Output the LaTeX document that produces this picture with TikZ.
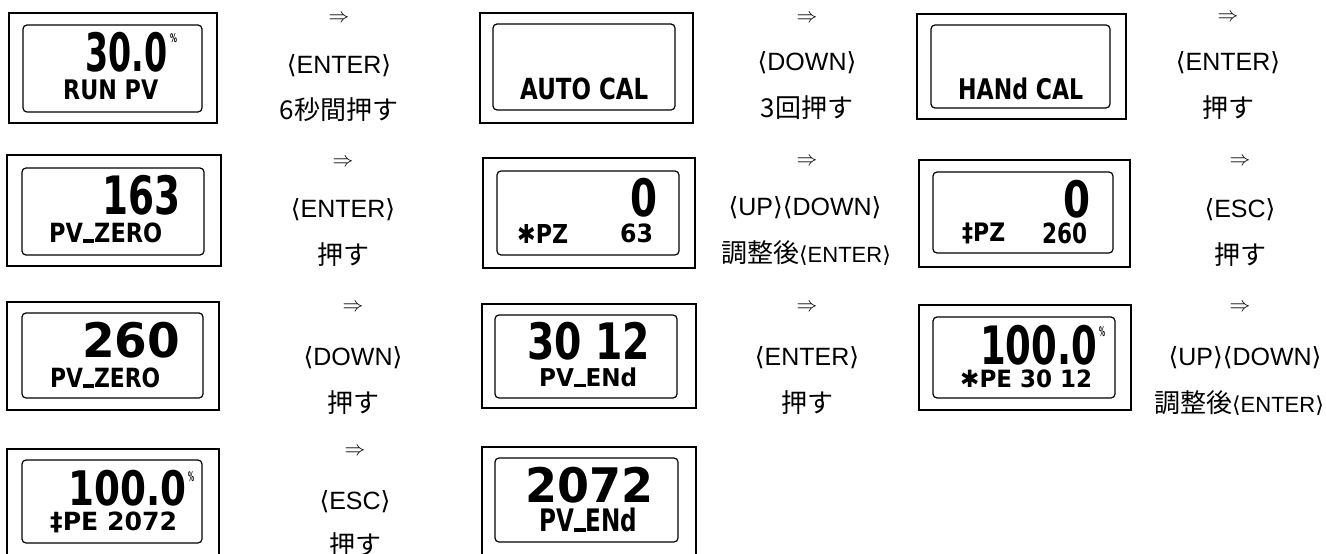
\documentclass[tikz,border=0pt]{standalone}
\usepackage{fontspec}
\usepackage{graphicx}
\usetikzlibrary{fit}
\setmainfont{Noto Sans CJK JP}
\newfontfamily\lcdf{DejaVu Sans}
\newfontfamily\latf{Liberation Sans}
\newfontfamily\brf{DejaVu Sans}
\newcommand\lcdt[3]{\resizebox*{#1pt}{#2pt}{\lcdf\bfseries #3}}
\newcommand\us{\rule{0.5em}{0.13em}}
\newcommand\kb[1]{{\brf ⟨}{\latf #1}{\brf ⟩}}
\newcommand\smallkey{\fontsize{22}{22}\selectfont}
\tikzset{
  outerbox/.style={draw, line width=1.5pt, inner sep=0pt},
  innerbox/.style={draw, line width=1.2pt, rounded corners=4pt, inner sep=0pt},
  lcd/.style={anchor=north west, inner sep=0pt},
  arr/.style={font=\fontsize{22}{22}\selectfont, inner sep=0pt},
  key/.style={font=\fontsize{25}{25}\selectfont, inner sep=0pt},
  jp/.style={font=\fontsize{26}{26}\selectfont, inner sep=0pt}
}
\begin{document}
\begin{tikzpicture}[x=1pt,y=-1pt]
\clip (0,0) rectangle (1326,554);
\fill[white] (0,0) rectangle (1326,554);

% ---------- display 1
\node[outerbox, fit={(9,13)(217,123)}] (d1) {};
\node[innerbox, fit={(23,25)(202,112)}] (d1i) {};
\node[lcd] (d1v) at (85,32) {\lcdt{82}{40}{30.0}};
\node[lcd] (d1p) at (170,33) {\lcdt{7}{9}{\%}};
\node[lcd] (d1l) at (63,80) {\lcdt{95}{20}{RUN PV}};
% ---------- display 2
\node[outerbox, fit={(480,13)(693,123)}] (d2) {};
\node[innerbox, fit={(493,24)(675,110)}] (d2i) {};
\node[lcd] (d2l) at (520,78) {\lcdt{128}{22}{AUTO CAL}};
% ---------- display 3
\node[outerbox, fit={(917,14)(1126,119)}] (d3) {};
\node[innerbox, fit={(931,25)(1110,108)}] (d3i) {};
\node[lcd] (d3l) at (958,78) {\lcdt{125}{22}{HANd CAL}};
% ---------- display 4
\node[outerbox, fit={(7,155)(221,266)}] (d4) {};
\node[innerbox, fit={(22,168)(204,255)}] (d4i) {};
\node[lcd] (d4v) at (102,175) {\lcdt{78}{40}{163}};
\node[lcd] (d4l) at (49,223) {\lcdt{113}{20}{PV\us ZERO}};
% ---------- display 5
\node[outerbox, fit={(483,158)(695,268)}] (d5) {};
\node[innerbox, fit={(497,171)(679,255)}] (d5i) {};
\node[lcd] (d5v) at (630,178) {\lcdt{27}{39}{0}};
\node[lcd] (d5l) at (517,224) {\lcdt{51}{19}{✱PZ}};
\node[lcd] (d5n) at (620,224) {\lcdt{33}{19}{63}};
% ---------- display 6
\node[outerbox, fit={(919,160)(1130,267)}] (d6) {};
\node[innerbox, fit={(933,172)(1113,253)}] (d6i) {};
\node[lcd] (d6v) at (1063,180) {\lcdt{27}{38}{0}};
\node[lcd] (d6l) at (962,223) {\lcdt{43}{21}{‡PZ}};
\node[lcd] (d6n) at (1042,223) {\lcdt{45}{21}{260}};
% ---------- display 7
\node[outerbox, fit={(7,302)(219,410)}] (d7) {};
\node[innerbox, fit={(22,313)(203,398)}] (d7i) {};
\node[lcd] (d7v) at (82,322) {\lcdt{98}{36}{260}};
\node[lcd] (d7l) at (50,368) {\lcdt{110}{20}{PV\us ZERO}};
% ---------- display 8
\node[outerbox, fit={(482,304)(696,408)}] (d8) {};
\node[innerbox, fit={(495,315)(677,398)}] (d8i) {};
\node[lcd] (d8v) at (527,322) {\lcdt{123}{38}{30 12}};
\node[lcd] (d8l) at (539,368) {\lcdt{98}{19}{PV\us ENd}};
% ---------- display 9
\node[outerbox, fit={(919,305)(1131,410)}] (d9) {};
\node[innerbox, fit={(933,317)(1115,398)}] (d9i) {};
\node[lcd] (d9v) at (980,325) {\lcdt{117}{40}{100.0}};
\node[lcd] (d9p) at (1099,326) {\lcdt{6}{10}{\%}};
\node[lcd] (d9l) at (960,370) {\lcdt{132}{18}{✱PE 30 12}};
% ---------- display 10
\node[outerbox, fit={(7,449)(219,557)}] (d10) {};
\node[innerbox, fit={(22,460)(202,543)}] (d10i) {};
\node[lcd] (d10v) at (68,470) {\lcdt{118}{36}{100.0}};
\node[lcd] (d10p) at (188,471) {\lcdt{6}{10}{\%}};
\node[lcd] (d10l) at (50,512) {\lcdt{127}{21}{‡PE 2072}};
% ---------- display 11
\node[outerbox, fit={(482,447)(696,557)}] (d11) {};
\node[innerbox, fit={(495,458)(678,542)}] (d11i) {};
\node[lcd] (d11v) at (525,467) {\lcdt{128}{36}{2072}};
\node[lcd] (d11l) at (539,508) {\lcdt{98}{24}{PV\us ENd}};

% ---------- instructions, column A
\node[arr] (a1) at (339,19) {$\Rightarrow$};
\node[key] (a1k) at (339,66) {\kb{ENTER}};
\node[jp]  (a1j) at (339,110) {6秒間押す};
\node[arr] (a2) at (343,163) {$\Rightarrow$};
\node[key] (a2k) at (343,210) {\kb{ENTER}};
\node[jp]  (a2j) at (343,255) {押す};
\node[arr] (a3) at (353,308) {$\Rightarrow$};
\node[key] (a3k) at (353,358) {\kb{DOWN}};
\node[jp]  (a3j) at (353,403) {押す};
\node[arr] (a4) at (355,452) {$\Rightarrow$};
\node[key] (a4k) at (355,502) {\kb{ESC}};
\node[jp]  (a4j) at (355,545) {押す};
% ---------- column B
\node[arr] (b1) at (807,19) {$\Rightarrow$};
\node[key] (b1k) at (807,63) {\kb{DOWN}};
\node[jp]  (b1j) at (807,108) {3回押す};
\node[arr] (b2) at (807,162) {$\Rightarrow$};
\node[key] (b2k) at (805,208) {\kb{UP}\kb{DOWN}};
\node[jp]  (b2j) at (806,253) {調整後{\smallkey\kb{ENTER}}};
\node[arr] (b3) at (807,308) {$\Rightarrow$};
\node[key] (b3k) at (807,358) {\kb{ENTER}};
\node[jp]  (b3j) at (807,403) {押す};
% ---------- column C
\node[arr] (c1) at (1228,18) {$\Rightarrow$};
\node[key] (c1k) at (1228,63) {\kb{ENTER}};
\node[jp]  (c1j) at (1228,108) {押す};
\node[arr] (c2) at (1240,162) {$\Rightarrow$};
\node[key] (c2k) at (1240,210) {\kb{ESC}};
\node[jp]  (c2j) at (1240,255) {押す};
\node[arr] (c3) at (1240,308) {$\Rightarrow$};
\node[key] (c3k) at (1245,358) {\kb{UP}\kb{DOWN}};
\node[jp]  (c3j) at (1239,403) {調整後{\smallkey\kb{ENTER}}};
\end{tikzpicture}
\end{document}
